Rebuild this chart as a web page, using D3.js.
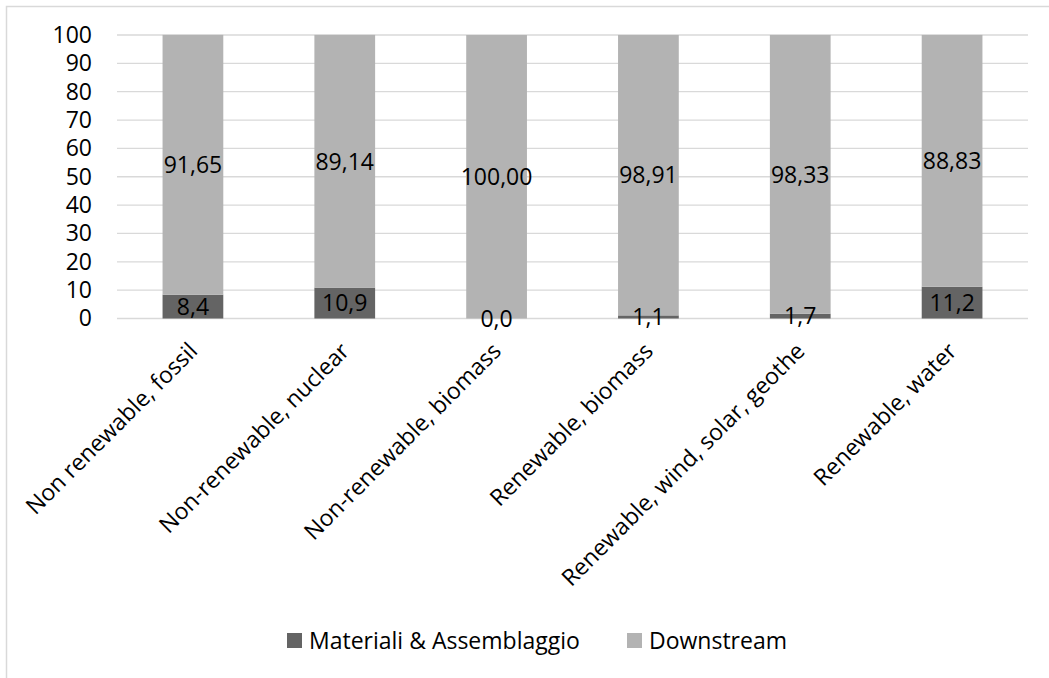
<!DOCTYPE html>
<html>
<head>
<meta charset="utf-8">
<script src="https://cdn.jsdelivr.net/npm/d3@7"></script>
<style>
  body { margin: 0; background: #fff; }
  svg text { font-family: "Open Sans", sans-serif; fill: #000; }
</style>
</head>
<body>
<div id="chart"></div>
<script>
// data
var categories = ["Non renewable, fossil", "Non-renewable, nuclear", "Non-renewable, biomass",
                  "Renewable, biomass", "Renewable, wind, solar, geothe", "Renewable, water"];
var materiali = [8.4, 10.9, 0.0, 1.1, 1.7, 11.2];
var downstream = [91.65, 89.14, 100.00, 98.91, 98.33, 88.83];
var seriesNames = ["Materiali & Assemblaggio", "Downstream"];
var yTicks = [0, 10, 20, 30, 40, 50, 60, 70, 80, 90, 100];

var W = 1049, H = 678;
var margin = {left: 117, right: 21, top: 35, bottom: 359.5};
var w = W - margin.left - margin.right,
    h = H - margin.top - margin.bottom;

var colors = ["#646464", "#b3b3b3"];
var fmt = [
  function(v){ return v.toFixed(1).replace(".", ","); },
  function(v){ return v.toFixed(2).replace(".", ","); }
];
var fs = "23px";

var svg = d3.select("#chart")
  .append("svg")
    .attr("width", W)
    .attr("height", H);

// chart frame (cut off at right/bottom like the reference)
svg.append("rect")
  .attr("x", 6.5).attr("y", 6.5)
  .attr("width", W + 20).attr("height", H + 20)
  .attr("fill", "none")
  .attr("stroke", "#d9d9d9")
  .attr("stroke-width", 1.5);

var g = svg.append("g")
  .attr("transform", "translate(" + margin.left + "," + margin.top + ")");

var x = d3.scaleBand()
  .domain(categories)
  .range([0, w])
  .paddingInner(0.6)
  .paddingOuter(0.3);

var y = d3.scaleLinear()
  .domain([0, 100])
  .range([h, 0]);

// gridlines
g.append("g")
  .selectAll("line")
  .data(yTicks)
  .enter()
  .append("line")
    .attr("x1", 0).attr("x2", w)
    .attr("y1", function(d){ return y(d); })
    .attr("y2", function(d){ return y(d); })
    .attr("stroke", "#d9d9d9")
    .attr("stroke-width", 1.3);

// y axis
var yAxis = d3.axisLeft(y).tickValues(yTicks).tickSize(0).tickPadding(25);
var gY = g.append("g").call(yAxis);
gY.select(".domain").remove();
gY.selectAll("text").style("font-size", fs).style("font-family", "Open Sans");

// stack
var rows = categories.map(function(c, i){
  return {cat: c, m: materiali[i], d: downstream[i]};
});
var stacked = d3.stack().keys(["m", "d"])(rows);

var layers = g.selectAll(".layer")
  .data(stacked)
  .enter()
  .append("g")
    .attr("class", "layer")
    .attr("fill", function(d, i){ return colors[i]; });

layers.selectAll("rect")
  .data(function(d){ return d; })
  .enter()
  .append("rect")
    .attr("x", function(d){ return x(d.data.cat); })
    .attr("y", function(d){ return y(d[1]); })
    .attr("width", x.bandwidth())
    .attr("height", function(d){ return y(d[0]) - y(d[1]); });

// data labels
stacked.forEach(function(layer, li){
  g.append("g")
    .selectAll("text")
    .data(layer)
    .enter()
    .append("text")
      .attr("x", function(d){ return x(d.data.cat) + x.bandwidth() / 2; })
      .attr("y", function(d){ return y((d[0] + d[1]) / 2); })
      .attr("dy", "0.36em")
      .attr("text-anchor", "middle")
      .style("font-size", fs)
      .text(function(d){ return fmt[li](d[1] - d[0]); });
});

// x axis labels
g.append("g")
  .selectAll("text")
  .data(categories)
  .enter()
  .append("text")
    .attr("transform", function(d){
      return "translate(" + (x(d) + x.bandwidth() / 2 + 6) + "," + (h + 34) + ") rotate(-45)";
    })
    .attr("text-anchor", "end")
    .style("font-size", fs)
    .text(function(d){ return d; });

// legend
var legend = svg.append("g").attr("transform", "translate(287,640.5)");
var legX = [0, 340];
seriesNames.forEach(function(name, i){
  var lg = legend.append("g").attr("transform", "translate(" + legX[i] + ",0)");
  lg.append("rect")
    .attr("x", 0).attr("y", -7.5)
    .attr("width", 15).attr("height", 15)
    .attr("fill", colors[i]);
  lg.append("text")
    .attr("x", 22).attr("dy", "0.36em")
    .style("font-size", fs)
    .text(name);
});
</script>
</body>
</html>
